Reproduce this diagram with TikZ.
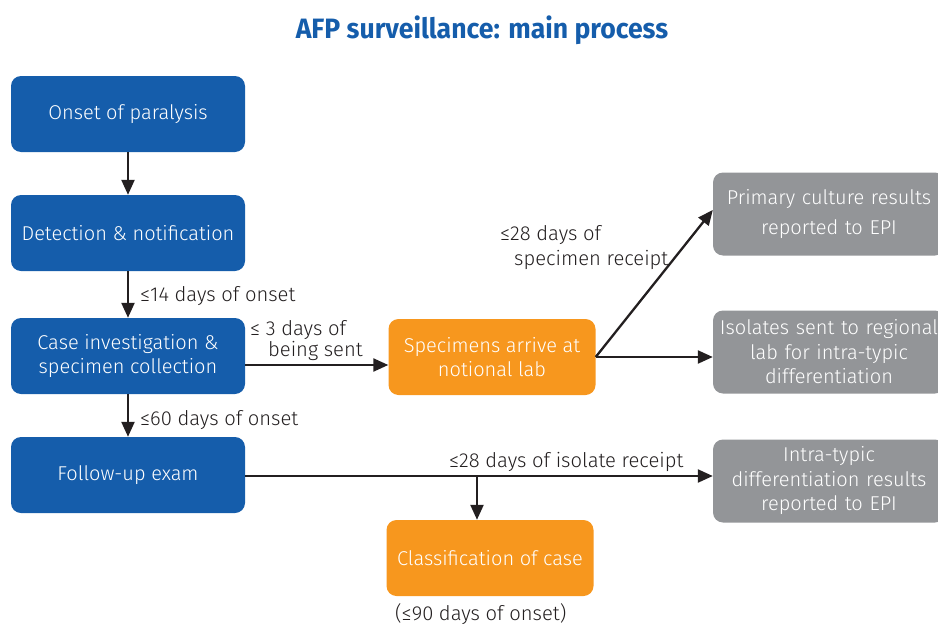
\documentclass[tikz,border=0pt]{standalone}
\usepackage{fontspec}
\setmainfont{Fira Sans}[UprightFont=* Light, BoldFont=* Bold]
\newfontfamily\titlefont{Fira Sans}[UprightFont=* Bold, FakeStretch=0.95]
\usetikzlibrary{arrows.meta}
\definecolor{afpblue}{RGB}{21,93,171}
\definecolor{afporange}{RGB}{247,151,30}
\definecolor{afpgray}{RGB}{147,149,152}
\definecolor{afptext}{RGB}{35,31,32}
\tikzset{
  box/.style={rounded corners=10pt, minimum height=76pt, text=white, align=center,
    inner sep=4pt, font=\fontsize{20}{24.5}\selectfont},
  bluebox/.style={box, fill=afpblue, minimum width=234pt},
  orangebox/.style={box, fill=afporange, minimum width=207pt},
  graybox/.style={box, fill=afpgray, minimum width=232pt, minimum height=83pt,
    text width=224pt},
  flow/.style={draw=afptext, line width=2.3pt, -{Triangle[length=15pt,width=13pt]}},
  lbl/.style={text=afptext, font=\fontsize{20.2}{24}\selectfont, inner sep=0pt, align=left}
}
\begin{document}
\begin{tikzpicture}[x=1pt,y=-1pt]
\useasboundingbox (0,0) rectangle (938,624);
\clip (0,0) rectangle (938,624);

% title
\node[text=afpblue, font=\titlefont\fontsize{28}{32}\selectfont] (title) at (482,30) {AFP surveillance: main process};

% left column
\node[bluebox] (onset) at (128,114) {Onset of paralysis};
\node[bluebox] (detect) at (128,233) {Detection \& notification};
\node[bluebox] (caseinv) at (128,356) {Case investigation \&\\specimen collection};
\node[bluebox] (followup) at (128,475) {Follow-up exam};

% laboratory and outcome boxes
\node[orangebox] (arrive) at (492,357) {Specimens arrive at\\notional lab};
\node[orangebox] (classify) at (490,558) {Classification of case};
\node[graybox, font=\fontsize{20}{30}\selectfont] (primary) at (829,214) {Primary culture results\\reported to EPI};
\node[graybox] (isolates) at (829,352) {Isolates sent to regional\\lab for intra-typic\\differentiation};
\node[graybox] (itd) at (829,481) {Intra-typic\\differentiation results\\reported to EPI};

% connectors
\draw[flow] (onset) -- (detect);
\draw[flow] (detect) -- (caseinv);
\draw[flow] (caseinv) -- (followup);
\coordinate (sendout) at ([yshift=-9pt]caseinv.east);
\draw[flow] (sendout) -- (sendout -| arrive.west);
\draw[flow] (arrive.east) -- ([yshift=4pt]primary.west);
\draw[flow] (arrive.east) -- (arrive.east -| isolates.west);
\coordinate (fuout) at ([yshift=-1pt]followup.east);
\draw[flow] (fuout) -- (fuout -| itd.west);
\coordinate (branch) at (477,476);
\draw[flow] (branch) -- (branch |- classify.north);

% time limits
\node[lbl, anchor=west] (l14) at (140,296) {≤14 days of onset};
\node[lbl, anchor=west] (l60) at (140,420) {≤60 days of onset};
\node[lbl, anchor=west] (l3a) at (250,330) {≤ 3 days of};
\node[lbl, anchor=west] (l3b) at (268,351) {being sent};
\node[lbl, anchor=west] (l28a) at (500,235) {≤28 days of};
\node[lbl, anchor=west] (l28b) at (514,260) {specimen receipt};
\node[lbl, anchor=west] (l28c) at (449,462) {≤28 days of isolate receipt};
\node[lbl, anchor=west] (l90) at (395,614) {(≤90 days of onset)};
\end{tikzpicture}
\end{document}
